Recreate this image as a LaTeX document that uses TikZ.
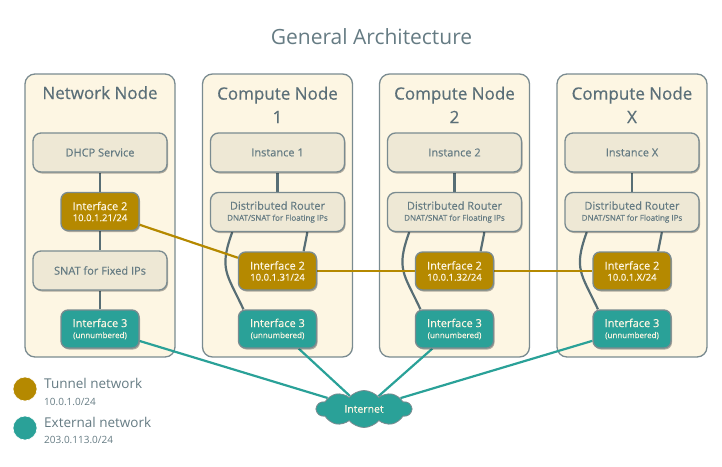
\documentclass[tikz,border=0pt]{standalone}
\usepackage{fontspec}
\setmainfont{Open Sans}
\newfontfamily\semib{Open Sans}[FakeBold=0.5]
\newfontfamily\semisub{Open Sans}[FakeBold=0.35]
\usetikzlibrary{shapes.symbols,shadows,calc}
\definecolor{contfill}{HTML}{FDF6E3}
\definecolor{boxfill}{HTML}{EEE8D5}
\definecolor{bordergray}{HTML}{7A8B90}
\definecolor{conngray}{HTML}{586E75}
\definecolor{tunnelc}{HTML}{B58900}
\definecolor{extc}{HTML}{2AA198}
\definecolor{txtgray}{HTML}{657B83}
\definecolor{headgray}{HTML}{5B6F78}
\definecolor{lighttxt}{HTML}{FDF6E3}
\pgfdeclarelayer{bg}
\pgfdeclarelayer{lines}
\pgfsetlayers{bg,lines,main}
\tikzset{
  container/.style={draw=bordergray, line width=1.3pt, fill=contfill, rounded corners=10pt,
    minimum width=150pt, minimum height=283pt, inner sep=0pt},
  headtxt/.style={text=headgray, font=\semib\fontsize{17}{23.5}\selectfont, align=center, inner sep=0pt},
  shadowed/.style={drop shadow={shadow xshift=1pt, shadow yshift=-1.5pt, opacity=0.3, fill=black}},
  bigbox/.style={shadowed, draw=bordergray, line width=1.3pt, fill=boxfill, rounded corners=8pt,
    minimum width=134pt, minimum height=39pt, inner sep=0pt, text=txtgray, align=center,
    font=\semisub\fontsize{11}{12}\selectfont},
  ifbox/.style={shadowed, draw=bordergray, line width=1.3pt, rounded corners=7pt,
    minimum width=78pt, minimum height=38pt, inner sep=0pt, text=lighttxt, align=center,
    font=\semisub\fontsize{11}{12}\selectfont},
  iftwo/.style={ifbox, fill=tunnelc},
  ifthree/.style={ifbox, fill=extc},
  conn/.style={draw=conngray, line width=2.2pt},
  tunnel/.style={draw=tunnelc, line width=2.2pt},
  extnet/.style={draw=extc, line width=2.2pt},
  legdot/.style={circle, minimum size=24pt, inner sep=0pt, draw=white, line width=0.6pt},
  legmain/.style={anchor=base west, inner sep=0pt, text=txtgray, font=\fontsize{13.5}{15}\selectfont},
  legsub/.style={anchor=base west, inner sep=0pt, text=txtgray, font=\fontsize{10}{12}\selectfont},
}
\newcommand{\subl}[1]{\\[-1pt]{\fontsize{8}{10}\selectfont #1}}
\newcommand{\subi}[1]{\\[-1pt]{\semib\fontsize{9.5}{10}\selectfont #1}}
\begin{document}
\begin{tikzpicture}[x=1pt,y=-1pt]
\useasboundingbox (0,0) rectangle (722,466);
% title
\node[anchor=base, inner sep=0pt, text=txtgray, font=\fontsize{21}{24}\selectfont] (title) at (371.5,44) {General Architecture};
% containers
\begin{pgfonlayer}{bg}
\node[container] (nn) at (100,215.5) {};
\node[container] (cn1) at (277.5,215.5) {};
\node[container] (cn2) at (454.5,215.5) {};
\node[container] (cnx) at (632,215.5) {};
\end{pgfonlayer}
% headings
\node[headtxt, anchor=base] (nnh) at (100,99) {Network Node};
\node[headtxt, anchor=north] (cn1h) at (277.5,86.5) {Compute Node\\1};
\node[headtxt, anchor=north] (cn2h) at (454.5,86.5) {Compute Node\\2};
\node[headtxt, anchor=north] (cnxh) at (632,86.5) {Compute Node\\X};
% network node boxes
\node[bigbox] (dhcp) at (100,152.5) {DHCP Service};
\node[iftwo] (nni2) at (100,211.5) {Interface 2\subi{10.0.1.21/24}};
\node[bigbox] (snat) at (100,270.5) {SNAT for Fixed IPs};
\node[ifthree] (nni3) at (100,329) {Interface 3\subl{(unnumbered)}};
% compute node boxes
\foreach \nm/\cx/\inst/\ip in {c1/277.5/Instance 1/10.0.1.31, c2/454.5/Instance 2/10.0.1.32, cx/632/Instance X/10.0.1.X}{
  \node[bigbox] (\nm inst) at (\cx,152.5) {\inst};
  \node[bigbox] (\nm dr) at (\cx,212) {Distributed Router\subl{DNAT/SNAT for Floating IPs}};
  \node[iftwo] (\nm i2) at (\cx,271) {Interface 2\subi{\ip/24}};
  \node[ifthree] (\nm i3) at (\cx,329) {Interface 3\subl{(unnumbered)}};
}
% internet cloud
\node[cloud, cloud puffs=10, cloud puff arc=100, aspect=2.6, fill=extc, draw=bordergray, line width=0.8pt,
  minimum width=95pt, minimum height=37pt, inner sep=0pt, text=lighttxt,
  font=\semisub\fontsize{10.5}{12}\selectfont] (inet) at (364,409) {Internet};
% connectors
\begin{pgfonlayer}{lines}
\draw[conn] (dhcp) -- (nni2);
\draw[conn] (nni2) -- (snat);
\draw[conn] (snat) -- (nni3);
\foreach \nm in {c1,c2,cx}{
  \draw[conn] (\nm inst) -- (\nm dr);
  \draw[conn] (\nm dr.-34.6) -- (\nm i2.37);
  \draw[conn] (\nm dr.204) to[out=-110, in=115, looseness=1.3] (\nm i3.150);
}
\draw[tunnel] (nni2) -- (c1i2);
\draw[tunnel] (c1i2) -- (c2i2);
\draw[tunnel] (c2i2) -- (cxi2);
\draw[extnet] (nni3) -- (inet);
\draw[extnet] (c1i3) -- (inet);
\draw[extnet] (c2i3) -- (inet);
\draw[extnet] (cxi3) -- (inet);
\end{pgfonlayer}
% legend
\node[legdot, fill=tunnelc] (ldot1) at (25,389) {};
\node[legmain] (lt1) at (44,388) {Tunnel network};
\node[legsub] (ls1) at (44,405) {10.0.1.0/24};
\node[legdot, fill=extc] (ldot2) at (25,428) {};
\node[legmain] (lt2) at (44,427) {External network};
\node[legsub] (ls2) at (44,443) {203.0.113.0/24};
\end{tikzpicture}
\end{document}
